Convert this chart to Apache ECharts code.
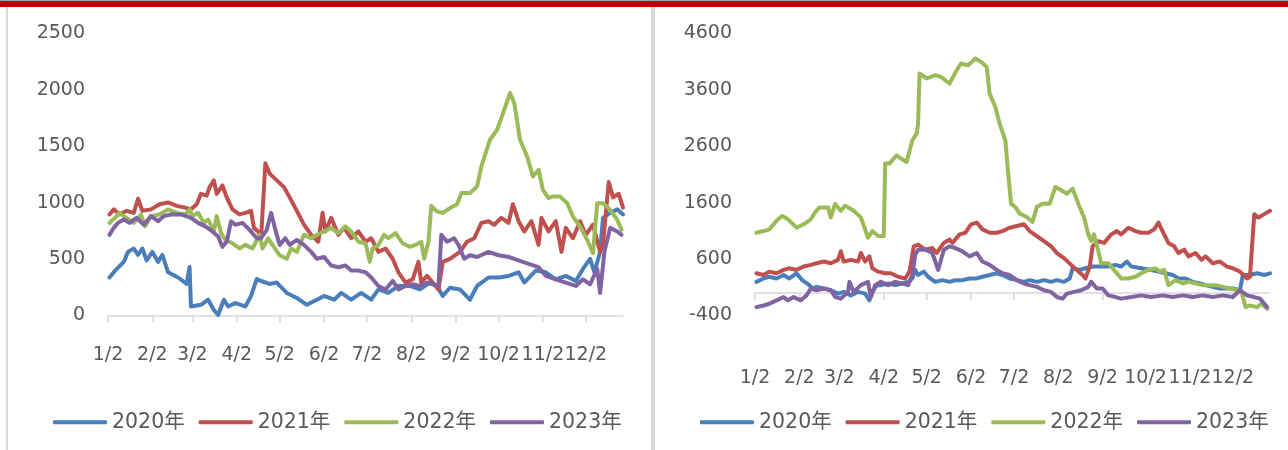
<!DOCTYPE html>
<html>
<head>
<meta charset="utf-8">
<script src="https://cdn.jsdelivr.net/npm/echarts@6/dist/echarts.min.js"></script>
<style>
  html, body { margin: 0; padding: 0; background: #fff; }
  #wrap { position: relative; width: 1288px; height: 450px; overflow: hidden; background: #fff; }
  #topbar { position: absolute; left: 0; top: 0; width: 1288px; height: 6px; background: #c00000; border-top: 1px solid #a0a0a0; }
  .sep { position: absolute; top: 7px; bottom: 0; background: #d9d9d9; }
  #chart { position: absolute; left: 0; top: 0; width: 1288px; height: 450px; }
</style>
</head>
<body>
<div id="wrap">
  <div id="chart"></div>
  <div id="topbar"></div>
  <div class="sep" style="left:6px;width:2px"></div>
  <div class="sep" style="left:651px;width:4px"></div>
</div>
<script>
  // 类目：1/2 ~ 12/28，按自然日
  const monthDays = [31, 28, 31, 30, 31, 30, 31, 31, 30, 31, 30, 31];
  const dayCount = 361;
  const dates = [];
  for (let m = 0; m < 12 && dates.length < dayCount; m++) {
    for (let d = 1; d <= monthDays[m] && dates.length < dayCount; d++) {
      if (m === 0 && d === 1) continue;
      dates.push((m + 1) + '/' + d);
    }
  }
  const seriesNames = ['2020年', '2021年', '2022年', '2023年'];
  const colors = ['#4a7ebb', '#c0504d', '#9bbb59', '#8064a2'];

  // 左图 [日序号, 数值]
  const left2020 = [[1,337],[5,398],[11,475],[14,564],[18,594],[21,537],[24,594],[27,488],[31,564],[35,475],[38,537],[42,383],[49,337],[55,280],[57,430],[58,80],[65,95],[70,140],[74,49],[77,5],[81,140],[84,80],[89,110],[96,80],[100,173],[104,324],[107,306],[113,280],[118,292],[125,200],[132,155],[139,95],[146,140],[151,173],[158,140],[163,200],[170,140],[177,200],[184,140],[189,231],[196,200],[203,262],[211,262],[218,231],[225,292],[230,262],[234,173],[239,246],[246,231],[253,140],[258,262],[266,337],[273,337],[280,351],[287,383],[291,292],[299,398],[306,383],[313,321],[320,351],[327,306],[332,413],[337,502],[340,383],[344,564],[346,866],[351,910],[356,941],[360,896]];
  const left2021 = [[1,896],[4,941],[8,896],[13,928],[18,910],[21,1035],[24,928],[30,941],[36,987],[42,1002],[48,972],[54,956],[58,941],[62,987],[65,1079],[69,1062],[71,1138],[74,1198],[76,1079],[80,1153],[83,1047],[87,941],[92,896],[96,910],[100,928],[102,777],[105,745],[107,685],[110,1349],[113,1258],[118,1198],[123,1138],[127,1047],[132,928],[137,805],[142,715],[147,654],[150,910],[152,745],[156,866],[161,715],[165,777],[170,685],[175,745],[180,654],[184,685],[189,564],[194,594],[199,503],[203,383],[208,292],[213,321],[217,475],[219,292],[223,352],[227,292],[231,231],[234,475],[239,502],[246,564],[251,654],[256,685],[261,821],[266,836],[270,805],[275,866],[280,821],[283,987],[287,836],[291,745],[296,836],[301,626],[303,866],[308,745],[313,836],[317,564],[320,777],[325,685],[330,836],[334,715],[339,805],[344,564],[346,626],[350,1183],[353,1047],[357,1079],[360,956]];
  const left2022 = [[1,821],[5,866],[8,910],[13,866],[18,821],[23,896],[26,790],[30,881],[36,896],[42,941],[48,910],[54,896],[57,941],[59,881],[63,910],[67,821],[70,851],[74,745],[76,881],[79,730],[82,670],[87,640],[92,594],[96,626],[101,594],[106,715],[108,594],[112,685],[115,626],[120,534],[125,503],[128,594],[132,564],[137,715],[142,685],[146,715],[151,745],[156,777],[161,730],[166,790],[170,745],[175,654],[180,640],[183,475],[185,594],[189,626],[193,715],[196,685],[201,730],[206,640],[211,609],[215,626],[219,654],[221,503],[224,654],[226,972],[230,922],[234,910],[239,952],[244,987],[247,1085],[253,1085],[258,1144],[261,1322],[267,1558],[272,1647],[277,1825],[281,1973],[284,1884],[288,1558],[293,1410],[297,1232],[301,1292],[304,1114],[308,1041],[311,1055],[316,1055],[321,996],[325,877],[330,789],[335,670],[339,552],[342,996],[346,996],[351,937],[356,848],[359,759]];
  const left2023 = [[1,715],[4,777],[7,821],[11,851],[15,821],[20,866],[25,805],[30,881],[35,836],[39,881],[44,896],[51,896],[58,866],[63,821],[68,790],[73,745],[77,700],[80,609],[83,654],[86,836],[89,805],[94,821],[99,759],[104,685],[107,685],[111,759],[114,910],[117,759],[120,626],[124,685],[127,626],[132,670],[137,626],[142,564],[146,503],[151,519],[156,443],[161,428],[166,443],[170,398],[175,398],[180,383],[184,337],[189,262],[194,231],[199,306],[203,231],[208,262],[213,277],[218,262],[223,292],[227,277],[231,262],[233,715],[237,654],[242,685],[245,626],[249,503],[253,534],[258,519],[266,564],[273,534],[280,519],[287,488],[294,458],[301,428],[306,352],[313,321],[320,292],[327,262],[332,321],[337,277],[342,413],[344,200],[347,564],[351,777],[356,745],[359,715]];

  // 右图 [日序号, 数值]
  const right2020 = [[1,197],[6,257],[10,287],[15,257],[20,318],[24,257],[29,348],[33,227],[38,138],[40,78],[43,108],[48,78],[53,48],[58,-12],[62,18],[67,-43],[72,18],[77,-12],[80,-131],[82,18],[85,138],[88,138],[93,168],[98,138],[103,168],[107,197],[110,257],[112,408],[114,318],[118,378],[121,287],[126,197],[131,227],[136,197],[140,227],[145,227],[150,257],[155,257],[159,287],[164,318],[169,348],[173,318],[178,257],[183,227],[188,197],[192,227],[197,197],[202,227],[207,197],[211,227],[216,197],[220,257],[222,438],[227,408],[231,438],[236,468],[242,468],[247,468],[252,497],[256,468],[260,557],[263,468],[270,438],[277,408],[282,378],[287,348],[292,318],[296,257],[301,257],[306,197],[311,168],[315,138],[320,108],[325,78],[330,78],[334,78],[339,48],[341,318],[346,318],[351,348],[356,318],[360,348]];
  const right2021 = [[1,348],[6,318],[10,378],[15,348],[20,408],[24,438],[29,408],[34,468],[39,497],[43,527],[48,557],[53,527],[58,587],[60,737],[62,557],[67,587],[72,557],[74,708],[77,557],[80,648],[82,438],[86,378],[91,348],[95,348],[100,287],[105,257],[108,378],[111,827],[114,857],[119,767],[124,797],[127,708],[132,887],[136,947],[138,887],[143,1038],[147,1067],[151,1217],[155,1248],[159,1127],[164,1067],[169,1067],[173,1097],[178,1157],[183,1187],[188,1217],[192,1097],[197,1008],[202,918],[207,827],[211,708],[216,618],[221,497],[225,408],[229,318],[231,257],[234,468],[236,827],[240,918],[244,887],[249,1038],[253,1097],[256,1038],[261,1157],[266,1097],[270,1067],[275,1067],[279,1127],[282,1248],[286,1038],[289,887],[293,827],[296,708],[300,767],[303,648],[308,708],[312,587],[315,648],[320,527],[325,557],[330,468],[334,438],[339,378],[344,257],[346,287],[349,1397],[352,1337],[356,1397],[360,1457]];
  const right2022 = [[1,1067],[6,1097],[10,1127],[15,1278],[19,1367],[23,1306],[29,1157],[34,1217],[39,1306],[42,1429],[45,1517],[51,1517],[53,1340],[56,1578],[60,1457],[63,1548],[69,1457],[74,1340],[77,1127],[79,978],[82,1097],[86,1008],[90,1008],[91,2293],[94,2293],[99,2441],[102,2382],[106,2322],[110,2707],[113,2826],[114,3003],[115,3891],[120,3802],[126,3861],[130,3831],[136,3713],[141,3949],[144,4068],[149,4038],[154,4157],[158,4097],[162,4008],[164,3536],[168,3298],[171,3003],[175,2707],[177,2116],[179,1583],[182,1523],[185,1406],[190,1346],[194,1257],[197,1523],[201,1583],[206,1583],[210,1878],[214,1819],[218,1760],[222,1849],[227,1517],[230,1340],[233,1038],[235,918],[237,1038],[240,737],[242,527],[247,527],[252,378],[256,257],[261,257],[266,287],[270,348],[275,408],[280,438],[283,378],[286,408],[289,138],[294,227],[299,168],[303,197],[308,168],[313,138],[318,138],[322,138],[327,108],[332,78],[337,48],[340,18],[343,-252],[346,-222],[351,-252],[354,-192],[358,-282]];
  const right2023 = [[1,-252],[6,-222],[10,-192],[15,-131],[20,-73],[23,-131],[27,-73],[32,-131],[36,-43],[39,78],[43,48],[48,78],[53,48],[56,-73],[60,-101],[65,18],[66,197],[69,18],[74,138],[79,197],[81,-73],[84,138],[88,197],[93,138],[98,197],[103,168],[107,138],[110,318],[112,678],[114,767],[119,767],[124,708],[128,408],[132,767],[136,827],[140,797],[145,738],[150,648],[155,708],[159,557],[164,497],[169,408],[173,348],[178,318],[183,227],[188,168],[192,138],[197,108],[202,48],[207,18],[211,-73],[215,-101],[218,-12],[223,18],[228,48],[233,108],[235,197],[239,78],[243,78],[247,-43],[252,-73],[256,-101],[263,-73],[270,-43],[277,-73],[285,-43],[292,-73],[299,-43],[306,-73],[313,-43],[320,-73],[327,-43],[334,-73],[339,48],[344,-43],[349,-73],[353,-101],[358,-252]];

  const leftData = [left2020, left2021, left2022, left2023];
  const rightData = [right2020, right2021, right2022, right2023];

  const FONT = '"DejaVu Sans", "Noto Sans CJK SC", sans-serif';
  const isMonthTick = function (index, value) {
    return value.split('/')[1] === '2';
  };

  function makeXAxis(gridIndex, labelMargin) {
    return {
      type: 'category',
      gridIndex: gridIndex,
      data: dates,
      boundaryGap: false,
      axisLine: { onZero: true, lineStyle: { color: '#d9d9d9', width: 1.5 } },
      axisTick: { interval: isMonthTick, length: 7, lineStyle: { color: '#d9d9d9', width: 1.5 } },
      axisLabel: {
        interval: isMonthTick,
        hideOverlap: false,
        margin: labelMargin,
        color: '#595959',
        fontSize: 19,
        fontFamily: FONT
      },
      splitLine: { show: false }
    };
  }

  function makeYAxis(gridIndex, min, max, interval) {
    return {
      type: 'value',
      gridIndex: gridIndex,
      min: min,
      max: max,
      interval: interval,
      axisLine: { show: false },
      axisTick: { show: false },
      splitLine: { show: false },
      axisLabel: {
        margin: 23,
        color: '#595959',
        fontSize: 19,
        fontFamily: FONT,
        formatter: function (v) { return String(v); }
      }
    };
  }

  function makeSeries(dataList, axisIndex) {
    return dataList.map(function (data, i) {
      return {
        name: seriesNames[i],
        type: 'line',
        xAxisIndex: axisIndex,
        yAxisIndex: axisIndex,
        data: data,
        symbol: 'none',
        smooth: false,
        animation: false,
        lineStyle: { width: 4, color: colors[i], cap: 'round', join: 'round' },
        itemStyle: { color: colors[i] }
      };
    });
  }

  function makeLegend(left) {
    return {
      data: seriesNames,
      left: left,
      top: 412,
      padding: 0,
      icon: 'roundRect',
      itemWidth: 54,
      itemHeight: 4,
      itemGap: 14,
      textStyle: { color: '#595959', fontSize: 20.5, fontFamily: FONT }
    };
  }

  let myChart = echarts.init(document.getElementById('chart'));
  myChart.setOption({
    animation: false,
    color: colors,
    grid: [
      { left: 108, top: 33.5, width: 515, height: 282 },
      { left: 755, top: 33.5, width: 515, height: 282 }
    ],
    legend: [makeLegend(53), makeLegend(700)],
    xAxis: [makeXAxis(0, 30), makeXAxis(1, 53)],
    yAxis: [makeYAxis(0, 0, 2500, 500), makeYAxis(1, -400, 4600, 1000)],
    series: makeSeries(leftData, 0).concat(makeSeries(rightData, 1))
  });
</script>
</body>
</html>
